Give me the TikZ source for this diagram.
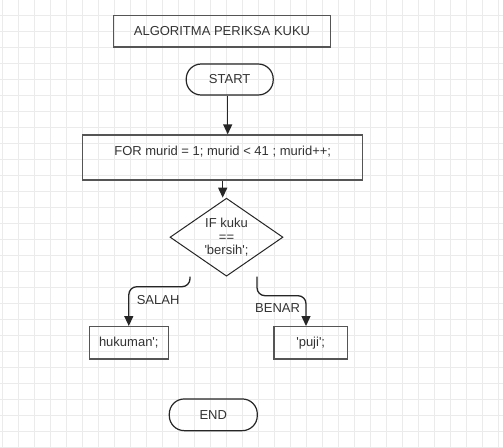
\documentclass[tikz,border=0pt]{standalone}
\usepackage{fontspec}
\setmainfont{Liberation Sans}
\usepackage{tikz}
\usetikzlibrary{arrows.meta, shapes.geometric, positioning}

\definecolor{gridgray}{HTML}{EBEBEB}
\definecolor{boxgray}{HTML}{555555}
\definecolor{txtgray}{HTML}{333333}
\newcommand{\sq}{\textquotesingle}

\tikzset{
  every node/.style={font=\fontsize{13}{13.5}\selectfont, text=txtgray},
  gridline/.style={gridgray, line width=1pt},
  procbox/.style={draw=boxgray, line width=1.3pt, rectangle, inner sep=0pt},
  termbox/.style={draw=black!85, line width=1.2pt, rectangle, rounded corners=15pt, inner sep=0pt},
  decbox/.style={draw=black!85, line width=1pt, diamond, aspect=1.45, inner sep=0pt, align=center},
  flow/.style={draw=black!85, line width=1.3pt, -{Triangle[length=10pt, width=9pt]}},
}

\begin{document}
\begin{tikzpicture}[x=1pt, y=-1pt]
\useasboundingbox (0,0) rectangle (503,447);
\fill[white] (0,0) rectangle (503,447);
\foreach \gx in {2.5,18.5,...,498.5} \draw[gridline] (\gx,0) -- (\gx,447); % vertical
\foreach \gy in {15,31,...,447} \draw[gridline] (0,\gy) -- (503,\gy); % horizontal

\node[procbox, minimum width=217pt, minimum height=31.7pt] (title) at (222,31) {ALGORITMA PERIKSA KUKU};
\node[termbox, minimum width=87pt, minimum height=31pt] (start) at (229.7,79.5) {START};
\node[procbox, minimum width=280pt, minimum height=45pt, text height=9.5pt, text depth=13.7pt] (for) at (222.7,157.5) {FOR murid = 1; murid < 41 ; murid++;};
\node[decbox, minimum width=113pt, minimum height=78pt] (dec) at (226.5,237.2) {IF kuku\\==\\\sq bersih\sq;};
\node[procbox, minimum width=79pt, minimum height=32.3pt] (hukuman) at (128.8,342.8) {hukuman\sq;};
\node[procbox, minimum width=73.3pt, minimum height=32.3pt] (puji) at (310.7,342.8) {\sq puji\sq;};
\node[termbox, minimum width=88pt, minimum height=31.7pt] (end) at (213.3,414.8) {END};

\coordinate (salah0) at (190,276.7);
\coordinate (benar0) at (257,276.7);

\draw[flow] ([xshift=-2pt]start.south) -- ([xshift=-2pt]start.south |- for.north);
\draw[flow] (for.south) -- (for.south |- dec.north);
\draw[flow, rounded corners=8pt] (salah0) -- ++(0,10) -| (hukuman.north) node[pos=0.67, right=4pt] {SALAH}; % salah
\draw[flow, rounded corners=8pt] (benar0) -- ++(0,19) -| ([xshift=-4.7pt]puji.north) node[pos=0.7, left=2pt] {BENAR}; % benar
\end{tikzpicture}
\end{document}
